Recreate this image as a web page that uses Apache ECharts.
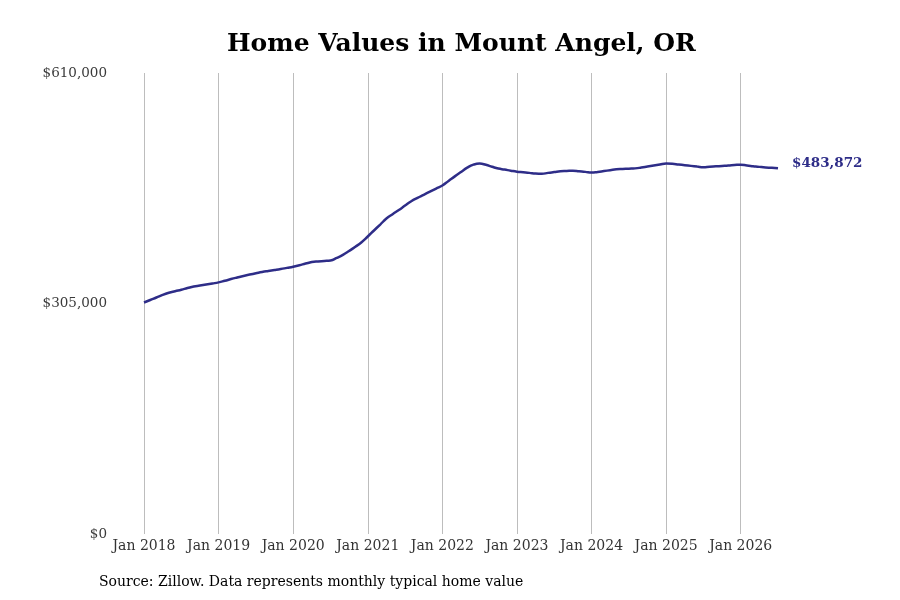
<!DOCTYPE html>
<html>
<head>
<meta charset="utf-8">
<script src="https://cdn.jsdelivr.net/npm/echarts@6/dist/echarts.min.js"></script>
<style>html,body{margin:0;padding:0;background:#fff}#c{width:900px;height:600px}</style>
</head>
<body>
<div id="c"></div>
<script>
var titleText = 'Home Values in Mount Angel, OR';
var sourceText = 'Source: Zillow. Data represents monthly typical home value';
var startYear = 2018;
var monthNames = ['Jan','Feb','Mar','Apr','May','Jun','Jul','Aug','Sep','Oct','Nov','Dec'];
var yTicks = [0, 305000, 610000];
var values2018 = [306300, 309650, 312960, 316400, 319180, 321300, 323280, 325400, 327380, 328710, 330170, 331490];
var values2019 = [332940, 335060, 337310, 339430, 341480, 343270, 344990, 346700, 348030, 349220, 350540, 352130];
var values2020 = [353720, 355700, 357820, 359810, 360730, 361260, 361920, 365230, 369330, 374490, 380050, 386140];
var values2021 = [393680, 401620, 409430, 417370, 423190, 428750, 434570, 440260, 444760, 448860, 452970, 457070];
var values2022 = [461170, 467120, 473210, 479030, 484730, 488690, 490150, 488560, 485920, 483540, 482210, 480760];
var values2023 = [479430, 478640, 477840, 476920, 476650, 477840, 478900, 479960, 480360, 480760, 479960, 479170];
var values2024 = [478240, 479030, 480220, 481420, 482610, 483000, 483400, 483800, 484860, 486180, 487500, 488830];
var values2025 = [490150, 489890, 488960, 488040, 487110, 486180, 485260, 485920, 486450, 486980, 487500, 488170];
var values2026 = [488700, 487640, 486710, 485780, 484990, 484590, 483872];

var values = [].concat(values2018, values2019, values2020, values2021, values2022, values2023, values2024, values2025, values2026);
var categories = values.map(function (v, i) {
  return monthNames[i % 12] + ' ' + (startYear + Math.floor(i / 12));
});

var serif = 'DejaVu Serif';
var lineColor = '#2e2d88';
function money(v) { return '$' + Math.round(v).toLocaleString('en-US'); }

var chart = echarts.init(document.getElementById('c'), null, {renderer: 'canvas'});
chart.setOption({
  backgroundColor: '#fff',
  animation: false,
  title: {
    text: titleText,
    left: 222,
    top: 27,
    textStyle: {fontFamily: serif, fontSize: 25, fontWeight: 'bold', color: '#000'}
  },
  graphic: [{
    type: 'text',
    left: 99,
    top: 575,
    style: {text: sourceText, font: '14px "DejaVu Serif"', fill: '#000'}
  }],
  grid: {left: 144, right: 122, top: 73, bottom: 66, containLabel: false},
  xAxis: {
    type: 'category',
    data: categories,
    boundaryGap: false,
    axisLine: {show: false},
    axisTick: {show: false},
    axisLabel: {
      interval: function (i) { return i % 12 === 0; },
      formatter: function (v) { return v; },
      fontFamily: serif, fontSize: 14, color: '#333', margin: 5
    },
    splitLine: {
      show: true,
      interval: function (i) { return i % 12 === 0; },
      lineStyle: {color: '#bdbdbd', width: 1}
    }
  },
  yAxis: {
    type: 'value',
    min: yTicks[0],
    max: yTicks[yTicks.length - 1],
    interval: yTicks[1] - yTicks[0],
    axisLine: {show: false},
    axisTick: {show: false},
    splitLine: {show: false},
    axisLabel: {
      formatter: money,
      fontFamily: serif, fontSize: 13.5, color: '#3a3a3a', margin: 37
    }
  },
  series: [{
    type: 'line',
    data: values,
    smooth: 0.5,
    symbol: 'none',
    lineStyle: {color: lineColor, width: 2.5},
    itemStyle: {color: lineColor},
    endLabel: {
      show: true,
      formatter: function (p) { return money(p.value); },
      distance: 14,
      offset: [0, -5],
      fontFamily: serif, fontSize: 13.5, fontWeight: 'bold', color: lineColor
    }
  }]
});
</script>
</body>
</html>
